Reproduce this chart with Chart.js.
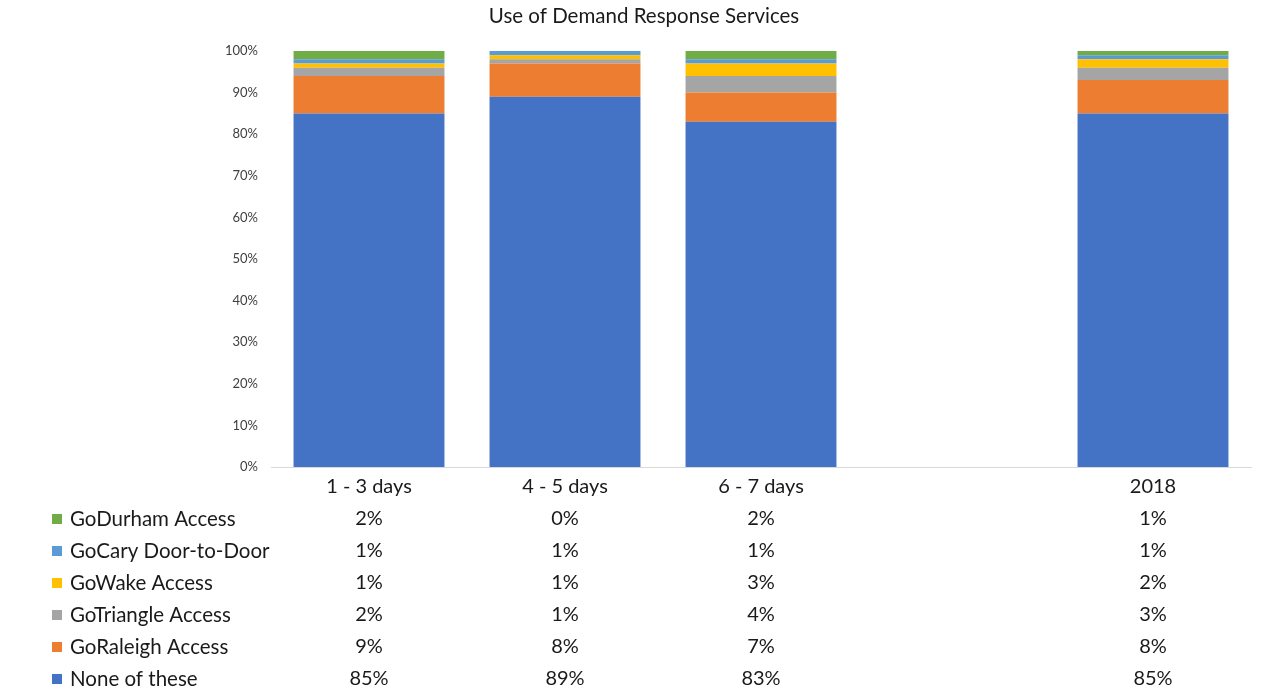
<!DOCTYPE html>
<html>
<head>
<meta charset="utf-8">
<script src="https://cdn.jsdelivr.net/npm/chart.js@4/dist/chart.umd.min.js"></script>
<style>
html,body{margin:0;padding:0;background:#fff;}
#wrap{width:1273px;height:700px;position:relative;}
</style>
</head>
<body>
<div id="wrap"><canvas id="c" width="1273" height="700"></canvas></div>
<script>
const categories = ["1 - 3 days", "4 - 5 days", "6 - 7 days", "", "2018"];
const noneOfThese = [85, 89, 83, null, 85];
const goRaleigh   = [9, 8, 7, null, 8];
const goTriangle  = [2, 1, 4, null, 3];
const goWake      = [1, 1, 3, null, 2];
const goCary      = [1, 1, 1, null, 1];
const goDurham    = [2, 0, 2, null, 1];
const yTicks = [0, 10, 20, 30, 40, 50, 60, 70, 80, 90, 100];
const titleText = 'Use of Demand Response Services';

const FONT = "Lato, 'Open Sans', sans-serif";
const TEXT = '#1a1a1a';

const tablePlugin = {
  id: 'dataTable',
  afterDraw(chart) {
    const {ctx, scales: {x}} = chart;
    const rows = [...chart.data.datasets].reverse();
    ctx.save();
    // title
    ctx.font = `20.5px ${FONT}`;
    ctx.fillStyle = TEXT;
    ctx.textAlign = 'center';
    ctx.textBaseline = 'middle';
    ctx.fillText(titleText, 644, 16);
    rows.forEach((ds, i) => {
      const y = 519 + i * 32;
      ctx.fillStyle = ds.backgroundColor;
      ctx.fillRect(52, y - 5, 10, 10);
      ctx.fillStyle = TEXT;
      ctx.textAlign = 'left';
      ctx.font = `20.5px ${FONT}`;
      ctx.fillText(ds.label, 70, y);
      ctx.textAlign = 'center';
      ctx.font = `20px ${FONT}`;
      ds.data.forEach((v, j) => {
        if (v == null) return;
        ctx.fillText(v + '%', x.getPixelForValue(j), y);
      });
    });
    ctx.restore();
  }
};

const mk = (label, data, color) => ({
  label, data, backgroundColor: color, borderWidth: 0,
  barPercentage: 0.77, categoryPercentage: 1.0
});

new Chart(document.getElementById('c'), {
  type: 'bar',
  data: {
    labels: categories,
    datasets: [
      mk('None of these', noneOfThese, '#4472C4'),
      mk('GoRaleigh Access', goRaleigh, '#ED7D31'),
      mk('GoTriangle Access', goTriangle, '#A5A5A5'),
      mk('GoWake Access', goWake, '#FFC000'),
      mk('GoCary Door-to-Door', goCary, '#5B9BD5'),
      mk('GoDurham Access', goDurham, '#70AD47')
    ]
  },
  options: {
    responsive: false,
    animation: false,
    layout: {padding: {left: 0, right: 22, top: 51, bottom: 0}},
    plugins: {
      legend: {display: false},
      tooltip: {enabled: false},
      title: {display: false}
    },
    scales: {
      x: {
        stacked: true,
        grid: {display: false, drawTicks: false},
        border: {display: true, color: '#d9d9d9', width: 1},
        ticks: {color: TEXT, font: {family: FONT, size: 20}, padding: 8, maxRotation: 0, autoSkip: false},
        afterFit(s) { s.height = 233; }
      },
      y: {
        stacked: true,
        min: 0, max: 100,
        afterBuildTicks(s) { s.ticks = yTicks.map(v => ({value: v})); },
        grid: {display: false, drawTicks: false},
        border: {display: false},
        ticks: {
          color: '#404040',
          font: {family: FONT, size: 13},
          padding: 13,
          callback: v => v + '%'
        },
        afterFit(s) { s.width = 271; }
      }
    }
  },
  plugins: [tablePlugin]
});
</script>
</body>
</html>
